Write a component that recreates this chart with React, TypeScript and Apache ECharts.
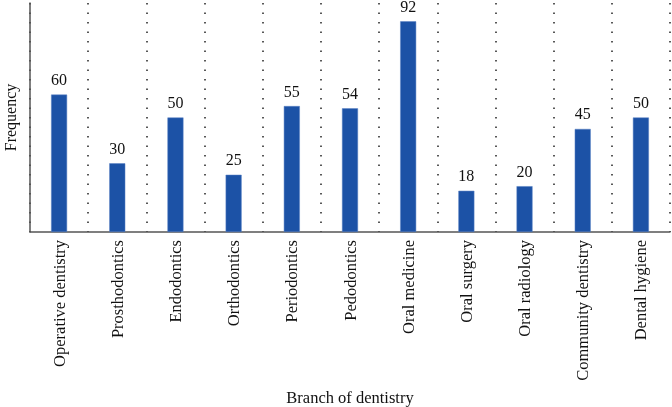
import React, { useEffect, useRef } from "react";
import * as echarts from "echarts";

const categories = [
  "Operative dentistry",
  "Prosthodontics",
  "Endodontics",
  "Orthodontics",
  "Periodontics",
  "Pedodontics",
  "Oral medicine",
  "Oral surgery",
  "Oral radiology",
  "Community dentistry",
  "Dental hygiene",
];
const frequency = [60, 30, 50, 25, 55, 54, 92, 18, 20, 45, 50];

const FONT = "Liberation Serif";

export default function App() {
  const ref = useRef<HTMLDivElement>(null);
  useEffect(() => {
    const chart = echarts.init(ref.current!, null, { renderer: "svg" });
    chart.setOption({
      animation: false,
      grid: {
        left: 30,
        top: 3,
        right: 2,
        bottom: 175,
        containLabel: false,
        outerBoundsMode: "none",
      },
      xAxis: {
        type: "category",
        data: categories,
        boundaryGap: true,
        name: "Branch of dentistry",
        nameLocation: "middle",
        nameGap: 157,
        nameTextStyle: { fontFamily: FONT, fontSize: 16.5, color: "#111" },
        axisLine: { lineStyle: { color: "#555", width: 1.5 } },
        axisTick: { show: false },
        axisLabel: {
          rotate: 90,
          interval: 0,
          margin: 8,
          fontFamily: FONT,
          fontSize: 16.5,
          color: "#111",
        },
        splitLine: {
          show: true,
          interval: 0,
          lineStyle: { color: "#222", type: [1.5, 8], width: 1.5 },
        },
      },
      yAxis: {
        type: "value",
        min: 0,
        max: 100,
        name: "Frequency",
        nameLocation: "middle",
        nameGap: 12,
        nameTextStyle: { fontFamily: FONT, fontSize: 16, color: "#111" },
        axisLine: { show: true, lineStyle: { color: "#555", width: 1.5 } },
        axisTick: { show: false },
        axisLabel: { show: false },
        splitLine: { show: false },
      },
      series: [
        {
          type: "bar",
          data: frequency,
          barWidth: 16,
          itemStyle: { color: "#1c52a6", borderColor: "#5b82c4", borderWidth: 0.5 },
          label: {
            show: true,
            position: "top",
            distance: 7,
            fontFamily: FONT,
            fontSize: 16,
            color: "#111",
          },
        },
      ],
    });
    return () => chart.dispose();
  }, []);
  return (
    <div
      ref={ref}
      style={{ position: "fixed", left: 0, top: 0, width: 672, height: 407 }}
    />
  );
}
